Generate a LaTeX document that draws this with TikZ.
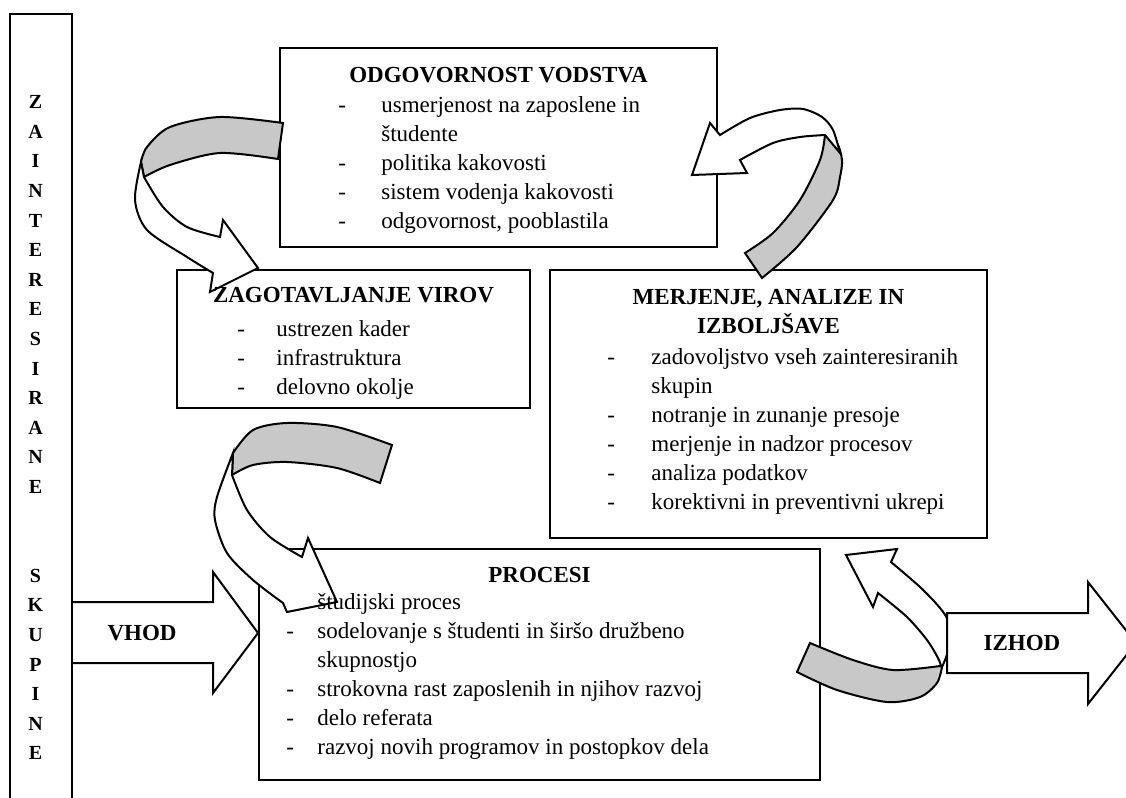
\documentclass[tikz,border=0pt]{standalone}
\usepackage{fontspec}
\setmainfont{Liberation Serif}
\usetikzlibrary{positioning,calc}
\definecolor{ribbon}{RGB}{200,200,200}
\tikzset{box/.style={draw,line width=1pt,inner sep=0pt}}
\tikzset{head/.style={font=\fontsize{11.5}{14.5}\selectfont\bfseries,inner sep=0pt}}
\tikzset{items/.style={font=\fontsize{11.5}{14.5}\selectfont,inner sep=0pt,anchor=base west}}
\tikzset{front/.style={draw,line width=1pt,fill=white,line join=miter}}
\tikzset{back/.style={front,fill=ribbon}}

\begin{document}
\begin{tikzpicture}[x=0.5pt,y=-0.5pt]

    \useasboundingbox (0,0) rectangle (1126,798);
    \fill[white] (0,0) rectangle (1126,798);

    % boxes
    \node[box,minimum width=31pt,minimum height=403pt] (bar) at (41,417) {};
    \node[box,minimum width=218.5pt,minimum height=99.5pt] (odg) at (498.5,147.5) {};
    \node[box,minimum width=176.5pt,minimum height=69pt] (viri) at (353.5,339) {};
    \node[box,minimum width=218.5pt,minimum height=134pt] (merj) at (768.5,404) {};
    \node[box,minimum width=280.5pt,minimum height=115.5pt] (proc) at (539.5,664.5) {};

    % curved arrows
    \draw[back] plot[smooth] coordinates {(283,123) (220,117) (170,127) (147,147) (141,162)}
        -- plot[smooth] coordinates {(144,177) (170,165) (220,153) (278,159)} -- cycle;
    \draw[front] plot[smooth] coordinates {(141,162) (135,200) (147,230) (187,257) (213,273)}
        -- (210,292) -- (258,268) -- (223,220)
        -- plot[smooth] coordinates {(220,237) (187,227) (163,207) (144,177)} -- cycle;

    \draw[back] plot[smooth] coordinates {(825,135) (837,143) (842,160) (840,177) (833,200) (797,247) (762,278)}
        -- plot[smooth] coordinates {(745,253) (773,233) (800,200) (820,160) (825,135)} -- cycle;
    \draw[front] plot[smooth] coordinates {(840,153) (833,130) (822,117) (803,109) (780,110) (750,118) (720,135)}
        -- (710,123) -- (692,175) -- (747,173)
        -- plot[smooth] coordinates {(740,160) (773,143) (800,137) (825,135)} -- cycle;

    \draw[back] plot[smooth] coordinates {(392,445) (337,427) (287,423) (253,430) (233,453)}
        -- plot[smooth] coordinates {(232,475) (253,465) (287,462) (337,468) (380,483)} -- cycle;
    \draw[front] plot[smooth] coordinates {(233,453) (217,497) (215,520) (227,553) (253,580) (283,603)}
        -- (287,612) -- (337,602) -- (308,538)
        -- plot[smooth] coordinates {(302,557) (270,537) (247,510) (232,475)} -- cycle;

    \draw[back] plot[smooth] coordinates {(810,643) (853,660) (893,670) (940,666)}
        -- plot[smooth] coordinates {(942,667) (937,683) (920,697) (887,702) (837,690) (797,672)} -- cycle;
    \draw[front] plot[smooth] coordinates {(941,666) (938,658) (927,640) (907,617) (878,593)}
        -- (873,607) -- (846,555) -- (897,549)
        -- plot[smooth] coordinates {(891,562) (920,587) (940,608) (948,622) (948,650) (942,667)} -- cycle;

    % input and output
    \draw[front] (bar.east |- 0,602) -- (213,602) -- (213,572) -- (proc.west |- 0,633)
        -- (213,693) -- (213,663) -- (bar.east |- 0,663);
    \draw[front] (947,613) -- (1088,613) -- (1088,582) -- (1136,643) -- (1088,704)
        -- (1088,673) -- (947,673) -- cycle;
    \node[head] (vhod) at (142,633) {VHOD};
    \node[head] (izhod) at (1022,643) {IZHOD};

    % stakeholders
    \foreach \l [count=\i] in {Z,A,I,N,T,E,R,E,S,I,R,A,N,E,{},{},S,K,U,P,I,N,E}
        \node[font=\fontsize{10}{12}\selectfont\bfseries,inner sep=0pt,anchor=base] (z\i) at (35.5,{79+29.6*\i}) {\l};

    % texts
    \node[head,anchor=base] (odgt) at ($(odg.north)+(0,35)$) {ODGOVORNOST VODSTVA};
    \node[items] (odgi) at ($(odg.north west)+(59,65)$) {%
        \begin{tabular}[t]{@{}p{21.5pt}@{}l@{}}
        - & usmerjenost na zaposlene in\\
          & študente\\
        - & politika kakovosti\\
        - & sistem vodenja kakovosti\\
        - & odgovornost, pooblastila\\
        \end{tabular}
    };

    \node[head,anchor=base] (virit) at ($(viri.north)+(0,33)$) {ZAGOTAVLJANJE VIROV};
    \node[items] (virii) at ($(viri.north west)+(61,67)$) {%
        \begin{tabular}[t]{@{}p{19.5pt}@{}l@{}}
        - & ustrezen kader\\
        - & infrastruktura\\
        - & delovno okolje\\
        \end{tabular}
    };

    \node[head,anchor=base] (merjt) at ($(merj.north)+(0,35)$) {%
        \begin{tabular}[t]{@{}c@{}}
        MERJENJE, ANALIZE IN\\
        IZBOLJŠAVE\\
        \end{tabular}
    };
    \node[items] (merji) at ($(merj.north west)+(58,95)$) {%
        \begin{tabular}[t]{@{}p{22pt}@{}l@{}}
        - & zadovoljstvo vseh zainteresiranih\\
          & skupin\\
        - & notranje in zunanje presoje\\
        - & merjenje in nadzor procesov\\
        - & analiza podatkov\\
        - & korektivni in preventivni ukrepi\\
        \end{tabular}
    };

    \node[head,anchor=base] (proct) at ($(proc.north)+(0,34)$) {PROCESI};
    \node[items] (proci) at ($(proc.north west)+(28,61)$) {%
        \begin{tabular}[t]{@{}p{15.5pt}@{}l@{}}
          & študijski proces\\
        - & sodelovanje s študenti in širšo družbeno\\
          & skupnostjo\\
        - & strokovna rast zaposlenih in njihov razvoj\\
        - & delo referata\\
        - & razvoj novih programov in postopkov dela\\
        \end{tabular}
    };

\end{tikzpicture}
\end{document}
